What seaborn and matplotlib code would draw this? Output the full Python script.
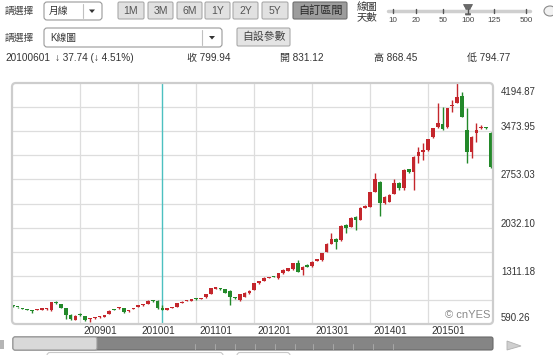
import matplotlib
matplotlib.use("Agg")
import matplotlib.pyplot as plt
import matplotlib.transforms as mtransforms
from matplotlib.patches import FancyBboxPatch, Polygon, Ellipse
import numpy as np
import pandas as pd
import seaborn as sns

sns.set_theme(style="white")
plt.rcParams["font.family"] = ["Liberation Sans", "Noto Sans CJK TC", "DejaVu Sans"]

# ---------------- data ----------------
months = [p.strftime("%Y%m") for p in pd.period_range("2007-11", periods=100, freq="M")]

opens = [862, 846, 826, 806, 797, 798, 806, 810, 795, 916,
         885, 828, 722, 655, 728, 705, 660, 678, 690, 700,
         740, 812, 830, 828, 780, 815, 850, 870, 890, 936,
         938, 831.12, 805, 830, 845, 905, 935, 940, 966, 965,
         990, 1040, 1120, 1112, 1109, 1088, 990, 949, 1000, 1050,
         1099, 1199, 1238, 1280, 1300, 1274, 1349, 1388, 1409, 1498,
         1398, 1470, 1458, 1540, 1548, 1672, 1787, 1862, 1840, 2071,
         2046, 2195, 2146, 2330, 2345, 2569, 2719, 2396, 2420, 2540,
         2700, 2630, 2905, 2869, 3103, 3170, 3193, 3383, 3533, 3582,
         3533, 3845, 3901, 4001, 3492, 3168, 3443, 3520, 3527, 3452]
closes = [855, 840, 820, 800, 786, 808, 813, 816, 912, 906,
          830, 725, 668, 712, 722, 652, 675, 683, 696, 722,
          790, 805, 838, 768, 796, 830, 865, 873, 938, 930,
          828, 799.94, 825, 845, 900, 925, 940, 956, 960, 980,
          1040, 1124, 1125, 1108, 1060, 999, 980, 1035, 1059, 1088,
          1199, 1233, 1274, 1285, 1295, 1349, 1398, 1424, 1498, 1373,
          1448, 1450, 1522, 1548, 1648, 1787, 1862, 1812, 2056, 2022,
          2180, 2146, 2330, 2355, 2560, 2755, 2396, 2495, 2520, 2700,
          2630, 2894, 2865, 3093, 3168, 3185, 3353, 3518, 3593, 3503,
          3817, 3855, 3990, 3691, 3168, 3392, 3492, 3530, 3520, 2934]
highs = [868, 852, 832, 812, 800, 815, 820, 824, 920, 928,
         892, 834, 740, 722, 760, 712, 682, 692, 706, 728,
         797, 822, 846, 836, 802, 836, 872, 886, 946, 946,
         946, 868.45, 832, 852, 906, 932, 948, 962, 976, 986,
         1046, 1130, 1140, 1125, 1116, 1095, 996, 1042, 1066, 1096,
         1206, 1240, 1286, 1300, 1312, 1356, 1406, 1432, 1506, 1548,
         1456, 1482, 1530, 1562, 1656, 1795, 1947, 1870, 2066, 2080,
         2190, 2206, 2340, 2366, 2570, 2854, 2730, 2510, 2530, 2760,
         2712, 2906, 2916, 3102, 3242, 3293, 3362, 3526, 3892, 3841,
         3826, 3941, 4194.87, 4066, 3817, 3402, 3593, 3560, 3532, 3462]
lows = [842, 832, 812, 795, 755, 794, 800, 805, 790, 896,
        824, 660, 655, 645, 712, 638, 622, 668, 680, 694,
        734, 795, 820, 762, 774, 808, 844, 864, 884, 922,
        820, 794.77, 800, 824, 840, 900, 928, 935, 954, 960,
        984, 1034, 1114, 1100, 1050, 875, 965, 940, 994, 1044,
        1094, 1194, 1230, 1274, 1288, 1268, 1344, 1380, 1400, 1365,
        1323, 1440, 1450, 1534, 1540, 1664, 1780, 1708, 1832, 1951,
        2040, 1996, 2140, 2320, 2338, 2560, 2200, 2380, 2410, 2530,
        2600, 2595, 2855, 2595, 2994, 3044, 3185, 3375, 3525, 3495,
        3525, 3766, 3890, 3680, 2994, 3069, 3318, 3500, 3514, 2925]

ytick_labels = [590.26, 1311.18, 2032.10, 2753.03, 3473.95, 4194.87]
xtick_labels = ["200901", "201001", "201101", "201201", "201301", "201401", "201501"]
cursor_month = "201006"
info_date = "20100601"
info_change = 37.74
info_pct = 4.51
info_close, info_open, info_high, info_low = 799.94, 831.12, 868.45, 794.77

period_buttons = ["1M", "3M", "6M", "1Y", "2Y", "5Y", "自訂區間"]
slider_days = ["10", "20", "50", "100", "125", "500"]

# ---------------- figure ----------------
W, H = 553, 355
fig = plt.figure(figsize=(W / 100, H / 100), dpi=100)
fig.patch.set_facecolor("white")

L, R, T, B = 12, 493, 83, 324
ax = fig.add_axes([L / W, (H - B) / H, (R - L) / W, (B - T) / H], zorder=1)
ax.set_facecolor("white")
for s in ax.spines.values():
    s.set_visible(False)
ax.set_xticks([])
ax.set_yticks([])

df = pd.DataFrame(dict(month=months, open=opens, close=closes, high=highs, low=lows))
df["x"] = np.arange(len(df))
UP, DOWN = "#c4262c", "#23892a"
df["color"] = np.where(df["close"] >= df["open"], UP, DOWN)

step_px = 4.83
ax.set_xlim(-(0.7 / step_px), (R - L - 0.7) / step_px)
ax.set_ylim(ytick_labels[0], ytick_labels[-1])

# grid
ystep = (ytick_labels[1] - ytick_labels[0]) / 2
for k in range(1, 10):
    ax.axhline(ytick_labels[0] + k * ystep, color="#dddddd", lw=0.9, zorder=0)
xpos = [months.index(m) for m in xtick_labels]
for xp in xpos:
    ax.axvline(xp, color="#dddddd", lw=0.9, zorder=0)

# cursor
ax.axvline(months.index(cursor_month), color="#4cc0c0", lw=1.0, zorder=1)

# candles
ax.vlines(df["x"], df["low"], df["high"], colors=df["color"], lw=1.0, zorder=2)
body_bottom = np.minimum(df["open"], df["close"])
body_h = np.maximum(np.abs(df["close"] - df["open"]), 17)
ax.bar(df["x"], body_h, bottom=body_bottom, width=0.76, color=df["color"],
       linewidth=0, zorder=3)

# y labels (right)
tr_y = mtransforms.blended_transform_factory(ax.transAxes, ax.transData)
xl = (501 - L) / (R - L)
for v in ytick_labels:
    if v == ytick_labels[-1]:
        tr = mtransforms.offset_copy(tr_y, fig=fig, x=0, y=-4, units="dots")
        va = "top"
    elif v == ytick_labels[0]:
        tr = mtransforms.offset_copy(tr_y, fig=fig, x=0, y=3, units="dots")
        va = "baseline"
    else:
        tr = mtransforms.offset_copy(tr_y, fig=fig, x=0, y=1, units="dots")
        va = "baseline"
    ax.text(xl, v, f"{v:.2f}", transform=tr, ha="left", va=va, fontsize=6.9,
            color="#333333", clip_on=False)

# x labels
tr_x = mtransforms.blended_transform_factory(ax.transData, ax.transAxes)
tr_x = mtransforms.offset_copy(tr_x, fig=fig, x=3, y=0, units="dots")
for xp, lab in zip(xpos, xtick_labels):
    ax.text(xp, (B - 331.5) / (B - T), lab, transform=tr_x, ha="left", va="center",
            fontsize=7.2, color="#333333", clip_on=False)

# ---------------- UI overlay ----------------
ui = fig.add_axes([0, 0, 1, 1], zorder=3)
ui.set_xlim(0, W)
ui.set_ylim(H, 0)
ui.axis("off")
ui.patch.set_alpha(0)


def rbox(x0, y0, x1, y1, fc, ec, r=2.5, lw=0.8, z=1):
    p = FancyBboxPatch((x0, y0), x1 - x0, y1 - y0,
                       boxstyle=f"round,pad=0,rounding_size={r}",
                       fc=fc, ec=ec, lw=lw, zorder=z)
    ui.add_patch(p)


def tri_down(x, y, c="#333333"):
    ui.add_patch(Polygon([(x - 3, y - 1.5), (x + 3, y - 1.5), (x, y + 2)], closed=True,
                         fc=c, ec="none"))


TXT = "#333333"
# plot frame
rbox(L, T, R, B, "none", "#cdcdcd", r=4, lw=1.6)

# row 1
ui.text(5, 11, "請選擇", fontsize=7, color="#444444", va="center", ha="left")
rbox(44, 2, 102, 20, "white", "#9a9a9a", r=3)
ui.text(49, 11, "月線", fontsize=7, color=TXT, va="center", ha="left")
ui.plot([83, 83], [4, 18], color="#c0c0c0", lw=0.8)
tri_down(92, 11)

btn_x = [(118, 144), (148, 173), (177, 202), (205, 230), (233, 258), (262, 288), (293, 347)]
for lab, (x0, x1) in zip(period_buttons, btn_x):
    pressed = lab == period_buttons[-1]
    rbox(x0, 2, x1, 19, "#9c9c9c" if pressed else "#e1e1e1",
         "#6f6f6f" if pressed else "#a9a9a9", r=1.5)
    ui.text((x0 + x1) / 2, 10.8, lab, fontsize=8 if pressed else 7.5,
            color="#2a2a2a" if pressed else "#555555", ha="center", va="center")

ui.text(357, 7, "線圖", fontsize=7.5, color=TXT, ha="left", va="center")
ui.text(357, 17.5, "天數", fontsize=7.5, color=TXT, ha="left", va="center")
ui.plot([388, 530], [11, 11], color="#cfcfcf", lw=2.5, solid_capstyle="round")
sl_x = [393, 416, 443, 468, 494, 526]
for sx, lab in zip(sl_x, slider_days):
    ui.plot([sx, sx], [8.5, 13], color="#555555", lw=1.0)
    ui.text(sx, 20, lab, fontsize=5.8, color="#444444", ha="center", va="center")
ui.add_patch(Polygon([(463.5, 4.5), (472.5, 4.5), (470, 9), (470.5, 15), (465.5, 15), (466, 9)],
                     closed=True, fc="#6a6a6a", ec="#555555", lw=0.5))
ui.add_patch(Ellipse((550, 11), 12, 10, fc="#f2f2f2", ec="#8a8a8a", lw=0.8))

# row 2
ui.text(5, 38, "請選擇", fontsize=7, color="#444444", va="center", ha="left")
rbox(44, 28, 222, 47, "white", "#9a9a9a", r=3)
ui.text(50, 37.5, "K線圖", fontsize=7, color=TXT, va="center", ha="left")
ui.plot([202, 202], [30, 45], color="#c0c0c0", lw=0.8)
tri_down(212, 37.5)
rbox(237, 28, 290, 46, "#e4e4e4", "#a9a9a9", r=1.5)
ui.text(263.5, 37, "自設參數", fontsize=7.8, color="#444444", ha="center", va="center")

# row 3
ui.text(5, 58, info_date, fontsize=7.2, color=TXT, ha="left", va="center")
ui.text(55, 58, f"↓ {info_change:.2f} (↓ {info_pct:.2f}%)", fontsize=7.2, color=TXT,
        ha="left", va="center")
ui.text(187, 58, f"收 {info_close:.2f}", fontsize=7.2, color=TXT, ha="left", va="center")
ui.text(280, 58, f"開 {info_open:.2f}", fontsize=7.2, color=TXT, ha="left", va="center")
ui.text(374, 58, f"高 {info_high:.2f}", fontsize=7.2, color=TXT, ha="left", va="center")
ui.text(467, 58, f"低 {info_low:.2f}", fontsize=7.2, color=TXT, ha="left", va="center")

# watermark
ui.text(445, 315, "© cnYES", fontsize=8, color="#8a8a8a", ha="left", va="center")

# scrollbar
ui.add_patch(Polygon([(0, 340), (4, 340), (4, 349), (0, 349)], closed=True, fc="#b5b5b5", ec="none"))
rbox(13, 337, 493, 350, "#858585", "#6a6a6a", r=2)
rbox(13, 337, 97, 350, "#d9d9d9", "#9a9a9a", r=2)
for tx in [195, 215, 235, 255, 275, 295, 313, 333, 353, 373, 393]:
    ui.plot([tx, tx], [343.5, 349], color="#a8a8a8", lw=0.7)
ui.add_patch(Polygon([(507, 341), (521, 346), (507, 350)], closed=True, fc="#cfcfcf", ec="#b0b0b0", lw=0.6))

# partially visible controls below
rbox(47, 352.5, 223, 370, "none", "#c8c8c8", r=3)
rbox(237, 352.5, 290, 370, "none", "#c8c8c8", r=3)

fig.savefig("out.png", dpi=100)
